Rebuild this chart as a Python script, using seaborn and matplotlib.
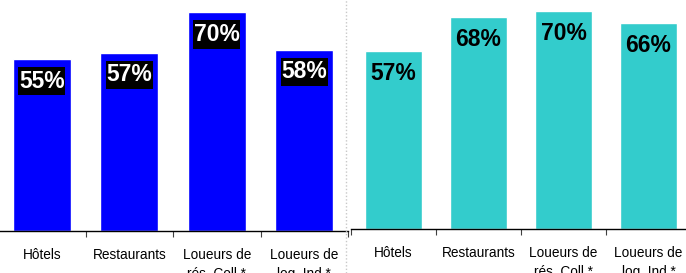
import pandas as pd
import numpy as np
import seaborn as sns
import matplotlib.pyplot as plt
from matplotlib.lines import Line2D
from matplotlib.path import Path

sns.set_theme(style="white")
plt.rcParams['font.family'] = ['Liberation Sans', 'DejaVu Sans']

categories = ["Hôtels", "Restaurants", "Loueurs de\nrés. Coll.*", "Loueurs de\nlog. Ind.*"]
left_values = [55, 57, 70, 58]
right_values = [57, 68, 70, 66]

df_left = pd.DataFrame({"cat": categories, "val": left_values})
df_right = pd.DataFrame({"cat": categories, "val": right_values})


def tall_box(x0, y0, width, height, mutation_size):
    # label box: tight left/right, generous top/bottom
    px, py = 0.03 * mutation_size, 0.12 * mutation_size
    x0, y0 = x0 - px, y0 - py
    x1, y1 = x0 + width + 2 * px, y0 + height + 2 * py
    return Path([(x0, y0), (x1, y0), (x1, y1), (x0, y1), (x0, y0)], closed=True)


fig = plt.figure(figsize=(6.86, 2.73), dpi=100)
W, H = 686, 273

# --- left panel: blue bars, white labels on black boxes ---
ax1 = fig.add_axes([-2 / W, 42 / H, 350 / W, 231 / H])
sns.barplot(data=df_left, x="cat", y="val", color="#0000FF", saturation=1,
            width=0.66, ax=ax1)
ax1.set_ylim(0, 74)
for i, v in enumerate(left_values):
    ax1.text(i, v - 7.0, f"{v}%", ha="center", va="center", color="white",
             fontsize=16.5, fontweight="bold",
             bbox=dict(boxstyle=tall_box, fc="black", ec="none"))

# --- right panel: teal bars, black labels ---
ax2 = fig.add_axes([351 / W, 44 / H, 340 / W, 229 / H])
sns.barplot(data=df_right, x="cat", y="val", color="#33CCCC", saturation=1,
            width=0.68, ax=ax2)
ax2.set_ylim(0, 73.4)
for i, v in enumerate(right_values):
    ax2.text(i, v - 7.2, f"{v}%", ha="center", va="center", color="black",
             fontsize=16.5, fontweight="bold")

for ax, first in ((ax1, 0.5), (ax2, -0.5)):
    ax.set_xlim(-0.5, 3.5)
    ax.set_xlabel("")
    ax.set_ylabel("")
    ax.set_yticks([])
    for s in ("left", "right", "top"):
        ax.spines[s].set_visible(False)
    ax.spines["bottom"].set_color("black")
    ax.spines["bottom"].set_linewidth(1.0)
    ax.tick_params(axis="x", which="major", length=0, pad=12.5, labelsize=9.8,
                   colors="black")
    ax.set_xticks(np.arange(first, 4.0, 1.0), minor=True)
    ax.tick_params(axis="x", which="minor", length=4.5, width=0.8,
                   color="#404040", bottom=True)
    for lbl in ax.get_xticklabels():
        lbl.set_linespacing(1.45)
        lbl.set_verticalalignment("top")
    ax.patch.set_alpha(0)

# dotted separator between the two panels
fig.add_artist(Line2D([346 / W, 346 / W], [0, 1], transform=fig.transFigure,
                      color="#C8C8C8", linestyle=(0, (1, 1.5)), linewidth=1))

plt.savefig("out.png", dpi=100)
